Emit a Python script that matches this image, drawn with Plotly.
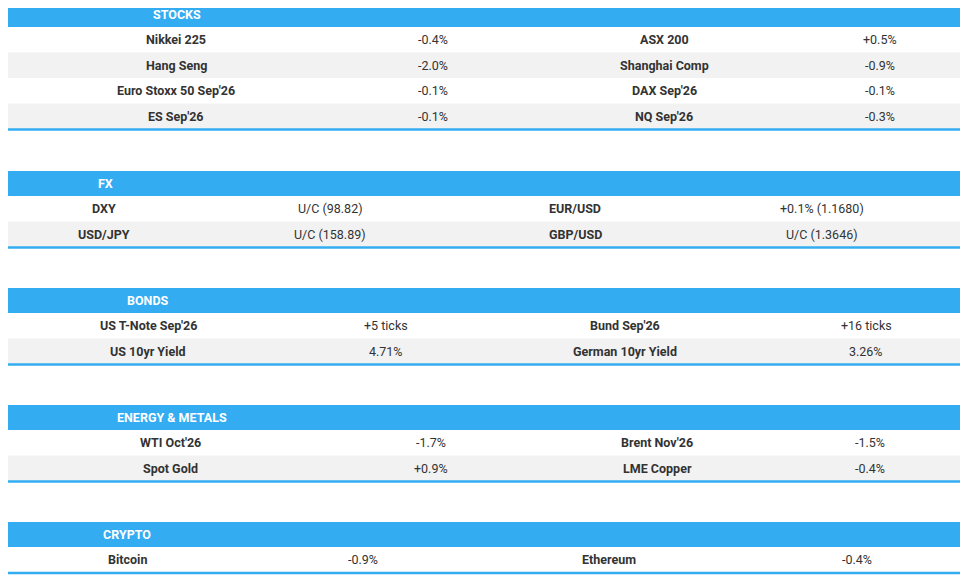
import plotly.graph_objects as go

sections = ["STOCKS", "FX", "BONDS", "ENERGY & METALS", "CRYPTO"]
rows = [
    [["Nikkei 225", "-0.4%", "ASX 200", "+0.5%"],
     ["Hang Seng", "-2.0%", "Shanghai Comp", "-0.9%"],
     ["Euro Stoxx 50 Sep'26", "-0.1%", "DAX Sep'26", "-0.1%"],
     ["ES Sep'26", "-0.1%", "NQ Sep'26", "-0.3%"]],
    [["DXY", "U/C (98.82)", "EUR/USD", "+0.1% (1.1680)"],
     ["USD/JPY", "U/C (158.89)", "GBP/USD", "U/C (1.3646)"]],
    [["US T-Note Sep'26", "+5 ticks", "Bund Sep'26", "+16 ticks"],
     ["US 10yr Yield", "4.71%", "German 10yr Yield", "3.26%"]],
    [["WTI Oct'26", "-1.7%", "Brent Nov'26", "-1.5%"],
     ["Spot Gold", "+0.9%", "LME Copper", "-0.4%"]],
    [["Bitcoin", "-0.9%", "Ethereum", "-0.4%"]],
]

tops = [2, 171, 288, 405, 522]
colx = [[176, 433, 664, 880], [104, 330, 575, 822], [148, 386, 625, 866],
        [170, 431, 657, 870], [127, 363, 609, 857]]
hx = [177, 105, 148, 172, 127]
HH, RH = 25, 25.5
L, R = 0, 964
BLUE = "#33ACF2"
OFF = 8  # page body margin

shapes, ann = [], []
for s, name in enumerate(sections):
    t = tops[s]
    shapes.append(dict(type="rect", x0=L, x1=R, y0=t, y1=t + HH, fillcolor=BLUE, line_width=0, layer="below"))
    ann.append(dict(x=hx[s], y=t + HH / 2, text=name, showarrow=False,
                    font=dict(family="Roboto", size=12.5, color="white", weight="bold")))
    y = t + HH
    for i, r in enumerate(rows[s]):
        shapes.append(dict(type="rect", x0=L, x1=R, y0=y, y1=y + RH,
                           fillcolor="#F2F2F2" if i % 2 else "white", line_width=0, layer="below"))
        for j, txt in enumerate(r):
            ann.append(dict(x=colx[s][j], y=y + RH / 2, text=txt, showarrow=False,
                            font=dict(family="Roboto", size=12.5, color="#333333",
                                      weight="bold" if j % 2 == 0 else "normal")))
        y += RH
    shapes.append(dict(type="line", x0=L, x1=R, y0=y + 0.5, y1=y + 0.5, line=dict(color=BLUE, width=2.5)))

fig = go.Figure()
fig.update_layout(width=968, height=580, margin=dict(l=0, r=0, t=0, b=0),
                  paper_bgcolor="white", plot_bgcolor="white",
                  xaxis=dict(range=[OFF, 968 + OFF], visible=False, fixedrange=True),
                  yaxis=dict(range=[580 + OFF, OFF], visible=False, fixedrange=True),
                  shapes=shapes, annotations=ann, showlegend=False)
fig.write_html("out.html")
